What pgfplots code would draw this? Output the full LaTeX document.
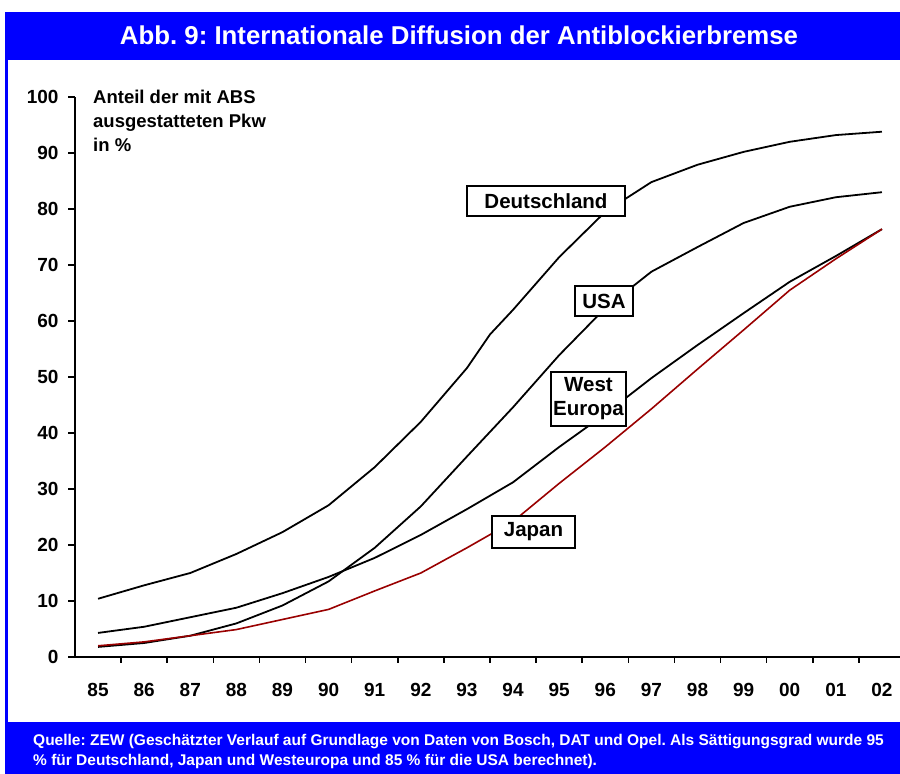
\documentclass[border=0pt]{standalone}
\usepackage{fontspec}
\setmainfont{Liberation Sans}
\usepackage{pgfplots}
\pgfplotsset{compat=1.18}
\definecolor{absblue}{RGB}{0,0,255}
\definecolor{jpred}{RGB}{153,0,0}
\frenchspacing
\begin{document}
\begin{tikzpicture}[x=1pt,y=1pt]
\useasboundingbox (0,0) rectangle (900,774);
\fill[absblue] (5,714) rectangle (900,762);
\fill[absblue] (5,52) rectangle (8,714);
\fill[absblue] (5,0) rectangle (900,52);
\node[text=white, font=\fontsize{25.8}{26}\selectfont\bfseries, anchor=base, inner sep=0] at (459,729) {Abb. 9: Internationale Diffusion der Antiblockierbremse};
\node[text=white, font=\fontsize{15.5}{20}\selectfont\bfseries, anchor=base west, inner sep=0, align=left] at (33,9) {Quelle: ZEW (Geschätzter Verlauf auf Grundlage von Daten von Bosch, DAT und Opel. Als Sättigungsgrad wurde 95\\\% für Deutschland, Japan und Westeuropa und 85 \% für die USA berechnet).};
\begin{axis}[
  at={(75pt,117pt)}, anchor=south west, scale only axis,
  width=830pt, height=560pt,
  xmin=-0.5, xmax=17.5, ymin=0, ymax=100,
  axis x line*=bottom, axis y line*=left,
  axis line style={line width=1.8pt},
  tick align=outside,
  xtick={0,...,17},
  xticklabels={85,86,87,88,89,90,91,92,93,94,95,96,97,98,99,00,01,02},
  major x tick style={draw=none},
  minor xtick={0.5,1.5,...,16.5},
  minor tick length=6pt,
  major tick length=7pt,
  ytick={0,10,...,100},
  tick style={line width=1.5pt, black},
  /pgf/number format/assume math mode=true,
  ticklabel style={font=\fontsize{19}{19}\selectfont\bfseries},
  xticklabel style={yshift=-16pt},
  yticklabel style={xshift=-6pt},
  clip=false,
]
\addplot[black, line width=1.8pt] coordinates {(0,10.4)(1,12.8)(2,15.0)(3,18.4)(4,22.3)(5,27.1)(6,33.9)(7,42.0)(8,51.6)(8.5,57.6)(9,62.0)(10,71.4)(11,79.5)(12,84.8)(13,87.9)(14,90.2)(15,92.0)(16,93.2)(17,93.8)};
\addplot[black, line width=1.8pt] coordinates {(0,1.8)(1,2.5)(2,3.8)(3,6.0)(4,9.2)(5,13.5)(6,19.5)(7,26.9)(8,35.8)(9,44.6)(10,53.9)(11,62.3)(12,68.8)(13,73.2)(14,77.5)(15,80.4)(16,82.1)(17,83.0)};
\addplot[black, line width=1.8pt] coordinates {(0,4.3)(1,5.4)(2,7.1)(3,8.8)(4,11.4)(5,14.3)(6,17.7)(7,21.8)(8,26.4)(9,31.2)(10,37.5)(11,43.4)(12,49.8)(13,55.7)(14,61.4)(15,67.0)(16,71.6)(17,76.4)};
\addplot[jpred, line width=1.6pt] coordinates {(0,2.0)(1,2.7)(2,3.8)(3,4.9)(4,6.7)(5,8.5)(6,11.8)(7,15.0)(8,19.5)(9,24.2)(10,31.0)(11,37.5)(12,44.3)(13,51.4)(14,58.4)(15,65.5)(16,71.1)(17,76.4)};
\end{axis}
\node[font=\fontsize{18.5}{24}\selectfont\bfseries, anchor=base west, inner sep=0, align=left] at (93,622) {Anteil der mit ABS\\ausgestatteten Pkw\\in \%};
\tikzset{lbl/.style={draw=black, fill=white, line width=1.5pt, inner sep=0, align=center, font=\fontsize{20.5}{24}\selectfont\bfseries}}
\node[lbl, minimum width=158pt, minimum height=30pt] at (546,573) {Deutschland};
\node[lbl, minimum width=58pt, minimum height=30pt] at (604,473) {USA};
\node[lbl, minimum width=75pt, minimum height=54pt] at (588.5,375) {West\\Europa};
\node[lbl, minimum width=83pt, minimum height=32pt] at (533.5,242) {Japan};
\end{tikzpicture}
\end{document}
